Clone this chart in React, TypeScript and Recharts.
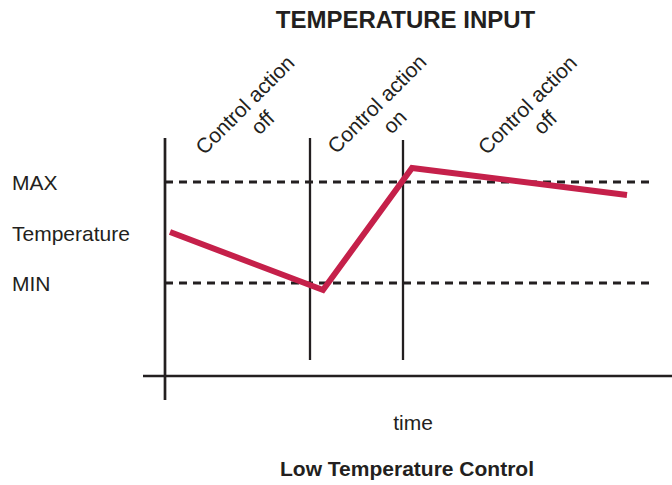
import React from 'react';
import { LineChart, Line, XAxis, YAxis, ReferenceLine } from 'recharts';

// time (x) and temperature (y), in arbitrary units
const times = [0.5, 15.8, 24.7, 46.2];
const temps = [16.8, 11.0, 23.2, 20.5];

const MAX_LEVEL = 21.8;
const MIN_LEVEL = 11.7;
const AXIS_LEVEL = 2.4;
const switchTimes = [14.5, 23.8];
const dashEnd = 48.5;

const yTicks = [MAX_LEVEL, 16.7, MIN_LEVEL];
const yTickLabels = ['MAX', 'Temperature', 'MIN'];

const phaseLabels = [
  { line1: 'Control action', line2: 'off', cx: 253.5, cy: 113.5 },
  { line1: 'Control action', line2: 'on', cx: 385.5, cy: 112.5 },
  { line1: 'Control action', line2: 'off', cx: 536, cy: 113.5 },
];

const chartData = times.map((t, i) => ({ time: t, temp: temps[i] }));

const FONT = '"Liberation Sans", Arial, Helvetica, sans-serif';
const RED = '#C5204A';
const INK = '#231f20';

const YTick = ({ y, payload }: any) => {
  const idx = yTicks.indexOf(payload.value);
  return (
    <text x={12} y={y} dy="0.36em" textAnchor="start" fontSize={21} fontFamily={FONT} fill={INK}>
      {yTickLabels[idx]}
    </text>
  );
};

const App: React.FC = () => {
  return (
    <div style={{ position: 'absolute', left: 0, top: 0, width: 672, height: 485, background: '#fff', fontFamily: FONT }}>
      <LineChart width={672} height={485} data={chartData} margin={{ top: 138, right: 0, bottom: 85, left: 0 }}>
        <XAxis type="number" dataKey="time" domain={[-2.2, 50.7]} hide />
        <YAxis
          type="number"
          domain={[0, 26.2]}
          ticks={yTicks}
          tick={<YTick />}
          axisLine={false}
          tickLine={false}
          width={143}
          interval={0}
        />
        <ReferenceLine
          segment={[{ x: 0, y: MAX_LEVEL }, { x: dashEnd, y: MAX_LEVEL }]}
          stroke={INK}
          strokeWidth={3}
          strokeDasharray="8 6"
        />
        <ReferenceLine
          segment={[{ x: 0, y: MIN_LEVEL }, { x: dashEnd, y: MIN_LEVEL }]}
          stroke={INK}
          strokeWidth={3}
          strokeDasharray="8 6"
        />
        <ReferenceLine x={0} stroke={INK} strokeWidth={2.7} />
        <ReferenceLine y={AXIS_LEVEL} stroke={INK} strokeWidth={2.7} />
        <ReferenceLine segment={[{ x: switchTimes[0], y: 26.2 }, { x: switchTimes[0], y: 4 }]} stroke={INK} strokeWidth={2.3} />
        <ReferenceLine segment={[{ x: switchTimes[1], y: 26.0 }, { x: switchTimes[1], y: 4 }]} stroke={INK} strokeWidth={2.3} />
        <Line
          type="linear"
          dataKey="temp"
          stroke={RED}
          strokeWidth={6}
          strokeLinejoin="miter"
          strokeLinecap="butt"
          dot={false}
          activeDot={false}
          isAnimationActive={false}
        />
      </LineChart>
      <svg width={672} height={485} style={{ position: 'absolute', left: 0, top: 0, pointerEvents: 'none' }}>
        <text x={405.5} y={28} textAnchor="middle" fontSize={24} fontWeight="bold" fontFamily={FONT} fill={INK}>
          TEMPERATURE INPUT
        </text>
        {phaseLabels.map((p, i) => (
          <text
            key={i}
            transform={`rotate(-45, ${p.cx}, ${p.cy})`}
            textAnchor="middle"
            fontSize={21}
            fontFamily={FONT}
            fill={INK}
          >
            <tspan x={p.cx} y={p.cy - 12.5} dy="0.36em">{p.line1}</tspan>
            <tspan x={p.cx} y={p.cy + 12.5} dy="0.36em">{p.line2}</tspan>
          </text>
        ))}
        <text x={413} y={430} textAnchor="middle" fontSize={21} fontFamily={FONT} fill={INK}>
          time
        </text>
        <text x={407} y={476} textAnchor="middle" fontSize={21} fontWeight="bold" fontFamily={FONT} fill={INK}>
          Low Temperature Control
        </text>
      </svg>
    </div>
  );
};

export default App;
